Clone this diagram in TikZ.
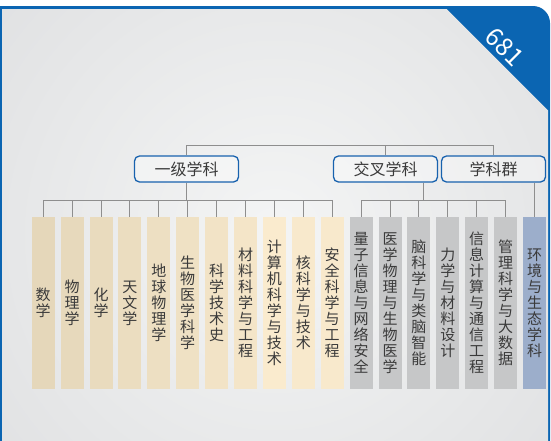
\documentclass[tikz,border=0pt]{standalone}
\usepackage{fontspec}
\setmainfont{Noto Sans CJK SC}
\usepackage{tikz}
\usetikzlibrary{calc,positioning}

\definecolor{panelblue}{HTML}{0B65B2}
\definecolor{boxblue}{HTML}{1862AE}
\definecolor{linkgray}{HTML}{8E8E8E}
\definecolor{txtgray}{HTML}{3A3A3A}
\definecolor{glowin}{HTML}{F4F5F5}
\definecolor{glowout}{HTML}{D8D9DB}
\definecolor{tanL}{HTML}{E5D7BA}
\definecolor{tanR}{HTML}{FAEBCE}
\definecolor{colgray}{HTML}{C6C7C8}
\definecolor{colblue}{HTML}{9CAECB}

\tikzset{
    subj/.style={minimum width=23pt,minimum height=172pt,inner sep=0pt,align=center,
        text=txtgray,font=\fontsize{15}{16}\selectfont},
    tanbox/.style={subj,fill=tanR!#1!tanL},
    graybox/.style={subj,fill=colgray},
    bluebox/.style={subj,fill=colblue},
    kind/.style={draw=boxblue,line width=1.3pt,rounded corners=5pt,fill=white,fill opacity=0.35,
        text opacity=1,text=txtgray,minimum width=104pt,minimum height=26pt,inner sep=0pt,
        font=\fontsize{16}{16}\selectfont},
    link/.style={draw=linkgray,line width=0.9pt}
}

\begin{document}
\begin{tikzpicture}[x=1pt,y=-1pt]

        \useasboundingbox (0,0) rectangle (551,440);
        \fill[white] (0,0) rectangle (551,440);

        % Panel: blue frame, rounded top right
        \fill[panelblue,rounded corners=17pt] (0,6) rectangle (550,480);
        \fill[panelblue] (0,6) rectangle (40,40);
        \begin{scope}
            \clip (2,9) -- (446.5,9) -- (548,110.5) -- (548,445) -- (2,445) -- cycle;
            \shade[inner color=glowin,outer color=glowout] (275,235) circle[radius=520pt];
        \end{scope}

        % Page number in the corner
        \node[rotate=-45,text=white,font=\fontsize{25}{25}\selectfont] (page) at (505,47) {681};

        % Top level
        \node[kind] (first) at (186.5,169) {一级学科};
        \node[kind] (cross) at (385.5,169) {交叉学科};
        \node[kind] (group) at (493.5,169) {学科群};

        % Subjects, pitch 28.9
        \node[tanbox=0]   (c1)  at (43.2,303)  {数\\学};
        \node[tanbox=10]  (c2)  at (72.1,303)  {物\\理\\学};
        \node[tanbox=20]  (c3)  at (101.0,303) {化\\学};
        \node[tanbox=30]  (c4)  at (129.9,303) {天\\文\\学};
        \node[tanbox=40]  (c5)  at (158.8,303) {地\\球\\物\\理\\学};
        \node[tanbox=50]  (c6)  at (187.7,303) {生\\物\\医\\学\\科\\学};
        \node[tanbox=60]  (c7)  at (216.6,303) {科\\学\\技\\术\\史};
        \node[tanbox=70]  (c8)  at (245.5,303) {材\\料\\科\\学\\与\\工\\程};
        \node[tanbox=100] (c9)  at (274.4,303) {计\\算\\机\\科\\学\\与\\技\\术};
        \node[tanbox=90]  (c10) at (303.3,303) {核\\科\\学\\与\\技\\术};
        \node[tanbox=90]  (c11) at (332.2,303) {安\\全\\科\\学\\与\\工\\程};
        \node[graybox]    (c12) at (361.1,303) {量\\子\\信\\息\\与\\网\\络\\安\\全};
        \node[graybox]    (c13) at (390.0,303) {医\\学\\物\\理\\与\\生\\物\\医\\学};
        \node[graybox]    (c14) at (418.9,303) {脑\\科\\学\\与\\类\\脑\\智\\能};
        \node[graybox]    (c15) at (447.8,303) {力\\学\\与\\材\\料\\设\\计};
        \node[graybox]    (c16) at (476.7,303) {信\\息\\计\\算\\与\\通\\信\\工\\程};
        \node[graybox]    (c17) at (505.6,303) {管\\理\\科\\学\\与\\大\\数\\据};
        \node[bluebox]    (c18) at (534.5,303) {环\\境\\与\\生\\态\\学\\科};

        % Connectors
        \coordinate (bar) at (186.5,145);
        \coordinate (bus) at (0,200);
        \draw[link] (first.north) -- (bar) -| (group.north);
        \draw[link] (cross.north) -- (cross.north |- bar);

        \draw[link] (first.south) -- (first.south |- bus);
        \draw[link] (c1.north |- bus) -- (c11.north |- bus);
        \foreach \i in {1,...,11}
            \draw[link] (c\i.north) -- (c\i.north |- bus);

        \coordinate (crossfoot) at ([xshift=37.5pt]cross.south);
        \draw[link] (crossfoot) -- (crossfoot |- bus);
        \draw[link] (c12.north |- bus) -- (c17.north |- bus);
        \foreach \i in {12,...,17}
            \draw[link] (c\i.north) -- (c\i.north |- bus);

        \draw[link] (c18.north) -- (c18.north |- group.south);

    \end{tikzpicture}
\end{document}
